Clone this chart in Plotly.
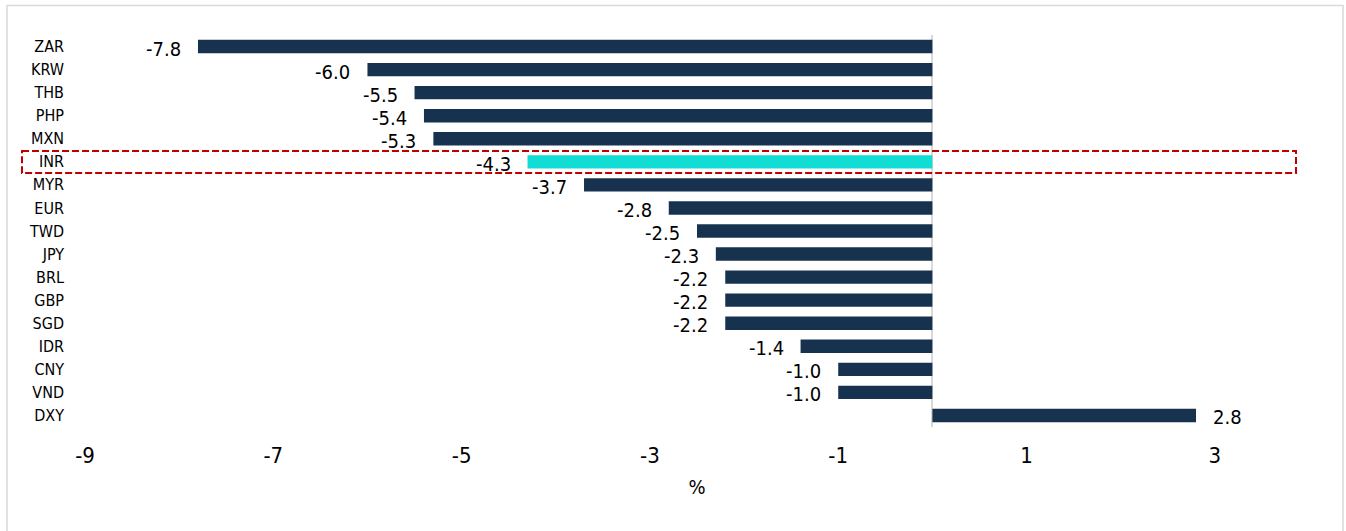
import plotly.graph_objects as go

# Currency moves vs USD, % change
currencies = ["ZAR", "KRW", "THB", "PHP", "MXN", "INR", "MYR", "EUR", "TWD",
              "JPY", "BRL", "GBP", "SGD", "IDR", "CNY", "VND", "DXY"]
changes = [-7.8, -6.0, -5.5, -5.4, -5.3, -4.3, -3.7, -2.8, -2.5,
           -2.3, -2.2, -2.2, -2.2, -1.4, -1.0, -1.0, 2.8]
highlight = "INR"

x_ticks = [-9, -7, -5, -3, -1, 1, 3]
x_range = [-9, 4]

NAVY = "#17324F"
CYAN = "#12DDD5"
RED = "#C00000"
GREY = "#D9D9D9"
FONT = "DejaVu Sans Condensed, DejaVu Sans, sans-serif"

W, H = 1346, 531
M_L, M_R, M_T, M_B = 85, 37, 34.5, 103.5
plot_w = W - M_L - M_R
plot_h = H - M_T - M_B


def px_to_paper_x(px):
    return (px - M_L) / plot_w


def px_to_paper_y(py):
    return (H - M_B - py) / plot_h


colors = [CYAN if c == highlight else NAVY for c in currencies]

fig = go.Figure(
    go.Bar(
        x=changes,
        y=currencies,
        orientation="h",
        marker=dict(color=colors, line=dict(width=0)),
        width=0.58,
        hoverinfo="x+y",
    )
)

# value labels just beyond each bar end
for cur, val in zip(currencies, changes):
    fig.add_annotation(
        x=val, y=cur, xref="x", yref="y",
        text=f"{val:.1f}",
        showarrow=False,
        xanchor="right" if val < 0 else "left",
        xshift=-15 if val < 0 else 15,
        yshift=-2,
        font=dict(family=FONT, size=20, color="#000000"),
    )

hi_idx = currencies.index(highlight)

shapes = [
    # dashed box around the highlighted row
    dict(
        type="rect", xref="paper", yref="y",
        x0=px_to_paper_x(22), x1=px_to_paper_x(1296),
        y0=hi_idx - 0.47, y1=hi_idx + 0.49,
        line=dict(color=RED, width=2, dash="7px,3px"),
        fillcolor="rgba(0,0,0,0)",
        layer="above",
    ),
    # chart frame
    dict(
        type="rect", xref="paper", yref="paper",
        x0=px_to_paper_x(7), x1=px_to_paper_x(1343),
        y0=px_to_paper_y(545), y1=px_to_paper_y(5),
        line=dict(color=GREY, width=1.5),
        fillcolor="rgba(0,0,0,0)",
        layer="below",
    ),
]

fig.update_layout(
    width=W, height=H,
    margin=dict(l=M_L, r=M_R, t=M_T, b=M_B, pad=0, autoexpand=False),
    paper_bgcolor="white",
    plot_bgcolor="white",
    showlegend=False,
    shapes=shapes,
    font=dict(family=FONT, color="#000000"),
    xaxis=dict(
        range=x_range,
        tickvals=x_ticks,
        ticktext=[str(t) for t in x_ticks],
        showgrid=False,
        zeroline=True,
        zerolinecolor=GREY,
        zerolinewidth=2,
        showline=False,
        ticks="",
        ticklabelstandoff=13,
        tickfont=dict(family=FONT, size=22),
        title=dict(text="%", font=dict(family=FONT, size=20), standoff=12),
        automargin=False,
        fixedrange=True,
    ),
    yaxis=dict(
        categoryorder="array",
        categoryarray=currencies,
        range=[len(currencies) - 0.5, -0.5],
        autorange=False,
        showgrid=False,
        zeroline=False,
        showline=False,
        ticks="",
        ticklabelstandoff=20,
        tickfont=dict(family=FONT, size=16),
        automargin=False,
        fixedrange=True,
    ),
)

fig.write_html("out.html")
